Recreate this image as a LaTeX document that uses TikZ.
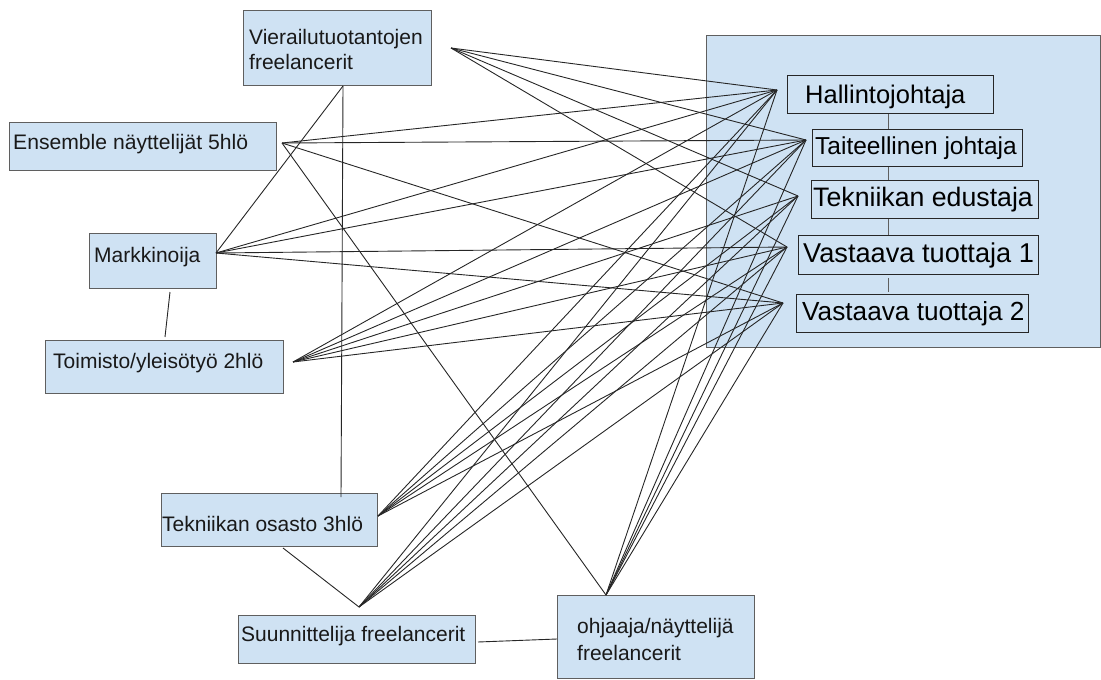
\documentclass[tikz,border=0pt]{standalone}
\usepackage{fontspec}
\usepackage{graphicx}
\setmainfont{Liberation Sans}
\definecolor{boxfill}{HTML}{CFE2F3}
\definecolor{boxline}{HTML}{5F5F5F}
\tikzset{
  box/.style={draw=boxline, fill=boxfill, line width=1pt, inner sep=0pt, anchor=north west},
  ibox/.style={draw=black!85, fill=boxfill, line width=1.2pt, inner sep=0pt, anchor=north west},
  lt/.style={anchor=base west, inner sep=0pt, font=\fontsize{21}{24}\selectfont, text=black!90},
  rt/.style={anchor=base west, inner sep=0pt, text=black},
  conn/.style={draw=black!85, line width=0.9pt},
}
\begin{document}
\begin{tikzpicture}[x=1pt, y=-1pt]
\useasboundingbox (0,0) rectangle (1101,680);
% big right container
\node[box, minimum width=394pt, minimum height=312pt] (big) at (706,35) {};
% left boxes
\node[box, minimum width=188pt, minimum height=75pt] (vier) at (243,10) {};
\node[box, minimum width=267pt, minimum height=48pt] (ens) at (9,122) {};
\node[box, minimum width=127pt, minimum height=55pt] (mark) at (89,233) {};
\node[box, minimum width=238pt, minimum height=53pt] (toim) at (45,340) {};
\node[box, minimum width=216pt, minimum height=53pt] (tek) at (161,493) {};
\node[box, minimum width=237pt, minimum height=48pt] (suun) at (238,615) {};
\node[box, minimum width=197pt, minimum height=83pt] (ohj) at (557,595) {};
% texts of left boxes
\node[lt] (vier-t1) at (249,45) {Vierailutuotantojen};
\node[lt] (vier-t2) at (249,69) {freelancerit};
\node[lt] (ens-t) at (13,149) {\resizebox{235pt}{\height}{Ensemble näyttelijät 5hlö}};
\node[lt] (mark-t) at (94,262) {Markkinoija};
\node[lt] (toim-t) at (53,368) {Toimisto/yleisötyö 2hlö};
\node[lt] (tek-t) at (162,531) {Tekniikan osasto 3hlö};
\node[lt] (suun-t) at (241,641) {Suunnittelija freelancerit};
\node[lt] (ohj-t1) at (577,633) {ohjaaja/näyttelijä};
\node[lt] (ohj-t2) at (577,660) {freelancerit};
% hub coordinates
\coordinate (vierHub) at (451,48);
\coordinate (ensHub) at (282,143);
\coordinate (markHub) at (216,253);
\coordinate (toimHub) at (293,362);
\coordinate (tekHub) at (378,516);
\coordinate (suunHub) at (359,607);
\coordinate (ohjHub) at (606,595);
\coordinate (hHub) at (777,90);
\coordinate (tHub) at (806,140);
\coordinate (teHub) at (798,196);
\coordinate (v1Hub) at (787,247);
\coordinate (v2Hub) at (783,303);
\coordinate (vierBot) at (343,86);
\coordinate (tekTop) at (341,497);
\coordinate (markBot) at (170,292);
\coordinate (toimTop) at (165,337);
\coordinate (tekBot) at (283,548);
\coordinate (suunR) at (478,642);
\coordinate (ohjL) at (557,639);
% connectors
\foreach \r in {hHub,tHub,teHub,v1Hub} \draw[conn] (vierHub) -- (\r);
\foreach \r in {hHub,tHub,v2Hub} \draw[conn] (ensHub) -- (\r);
\foreach \r in {hHub,tHub,v1Hub,v2Hub} \draw[conn] (markHub) -- (\r);
\foreach \l in {toimHub,tekHub,suunHub,ohjHub}
  \foreach \r in {hHub,tHub,teHub,v1Hub,v2Hub} \draw[conn] (\l) -- (\r);
\draw[conn] (ensHub) -- (ohjHub);
\draw[conn] (markHub) -- (vierBot);
\draw[conn] (vierBot) -- (tekTop);
\draw[conn] (markBot) -- (toimTop);
\draw[conn] (tekBot) -- (suunHub);
\draw[conn] (suunR) -- (ohjL);
% inner boxes
\node[ibox, minimum width=206pt, minimum height=38pt] (h) at (787,75) {};
\node[ibox, minimum width=210pt, minimum height=37pt] (t) at (812,129) {};
\node[ibox, minimum width=227pt, minimum height=38pt] (te) at (811,180) {};
\node[ibox, minimum width=240pt, minimum height=39pt] (v1) at (798,235) {};
\node[ibox, minimum width=232pt, minimum height=38pt] (v2) at (796,294) {};
\node[rt, font=\fontsize{25.5}{28}\selectfont] (h-t) at (805,103) {Hallintojohtaja};
\node[rt, font=\fontsize{24.5}{28}\selectfont] (t-t) at (815,154) {Taiteellinen johtaja};
\node[rt, font=\fontsize{26.7}{28}\selectfont] (te-t) at (813,206) {Tekniikan edustaja};
\node[rt, font=\fontsize{27.2}{28}\selectfont] (v1-t) at (803,262) {Vastaava tuottaja 1};
\node[rt, font=\fontsize{26.2}{28}\selectfont] (v2-t) at (802,320) {Vastaava tuottaja 2};
\coordinate (cx) at (888,0);
\draw[conn, draw=boxline] (h.south -| cx) -- (t.north -| cx);
\draw[conn, draw=boxline] (t.south -| cx) -- (te.north -| cx);
\draw[conn, draw=boxline] (te.south -| cx) -- (v1.north -| cx);
\draw[conn, draw=boxline] ([yshift=-3pt]v1.south -| cx) -- ([yshift=2pt]v2.north -| cx);
\end{tikzpicture}
\end{document}
